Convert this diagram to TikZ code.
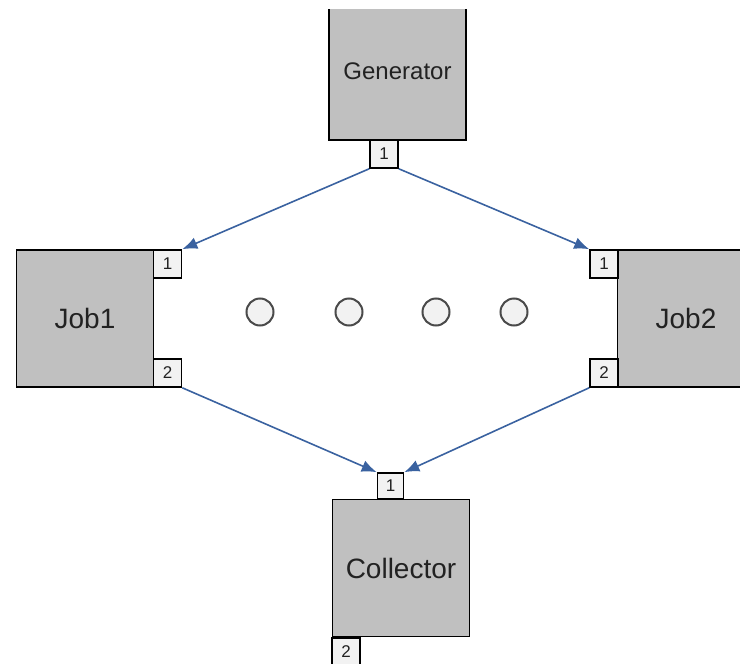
\documentclass[tikz,border=0pt]{standalone}
\usepackage{fontspec}
\setmainfont{Liberation Sans}
\usetikzlibrary{arrows.meta}
\definecolor{boxgray}{HTML}{C0C0C0}
\definecolor{portgray}{HTML}{F2F2F2}
\definecolor{linkblue}{HTML}{3A62A0}
\definecolor{txtgray}{HTML}{222222}
\definecolor{dotgray}{HTML}{4A4A4A}
\begin{document}
\begin{tikzpicture}[>={Latex[length=15pt,width=12pt]},x=1pt,y=-1pt,
  blk/.style={draw=black,line width=1.6pt,fill=boxgray,minimum width=137pt,minimum height=137pt,inner sep=0pt,text=txtgray,font=\fontsize{28}{30}\selectfont},
  port/.style={draw=black,line width=1.6pt,fill=portgray,minimum size=28pt,inner sep=0pt,text=txtgray,font=\fontsize{17}{18}\selectfont},
  dot/.style={circle,draw=dotgray,line width=2pt,fill=portgray,minimum size=27pt,inner sep=0pt},
  link/.style={->,draw=linkblue,line width=1.6pt}]

                \useasboundingbox (0,0) rectangle (740,664);
                \clip (0,9) rectangle (740,664);

                % boxes
                \node[blk,font=\fontsize{24}{26}\selectfont] (gen) at (397.5,71.5) {Generator};
                \node[blk] (job1) at (85,318.5) {Job1};
                \node[blk] (job2) at (686,318.5) {Job2};
                \node[blk] (coll) at (401,568) {Collector};

                % ports
                \node[port] (gen1) at (384,154) {1};
                \node[port] (job1a) at (167.5,264) {1};
                \node[port] (job1b) at (167.5,373) {2};
                \node[port] (job2a) at (604,264) {1};
                \node[port] (job2b) at (604,373) {2};
                \node[port,minimum size=26pt] (coll1) at (390.5,486) {1};
                \node[port] (coll2) at (346,652) {2};

                % more jobs
                \node[dot] (d1) at (260,312) {};
                \node[dot] (d2) at (349,312) {};
                \node[dot] (d3) at (436,312) {};
                \node[dot] (d4) at (514,312) {};

                \draw[link] (gen1.south west)--(job1a.north east);
                \draw[link] (gen1.south east)--(job2a.north west);
                \draw[link] (job1b.south east)--(coll1.north west);
                \draw[link] (job2b.south west)--(coll1.north east);

            \end{tikzpicture}
\end{document}
